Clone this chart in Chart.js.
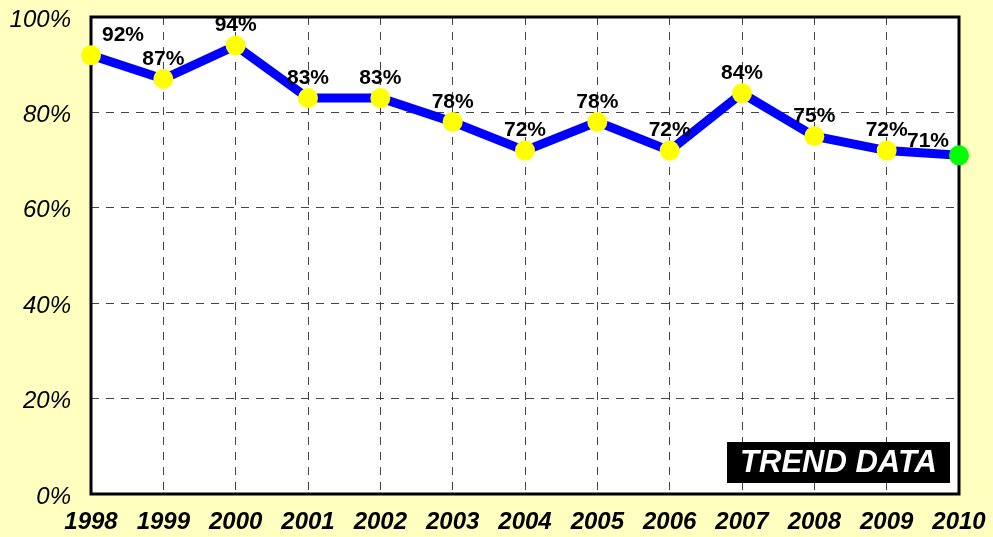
<!DOCTYPE html>
<html>
<head>
<meta charset="utf-8">
<script src="https://cdn.jsdelivr.net/npm/chart.js@4"></script>
<style>
  html, body { margin: 0; padding: 0; background: #ffffc0; }
  #wrap { width: 993px; height: 537px; }
</style>
</head>
<body>
<div id="wrap"><canvas id="trendChart" width="993" height="537"></canvas></div>
<script>
const years = ['1998', '1999', '2000', '2001', '2002', '2003', '2004', '2005', '2006', '2007', '2008', '2009', '2010'];
const percentValues = [92, 87, 94, 83, 83, 78, 72, 78, 72, 84, 75, 72, 71];
const yTicks = [0, 20, 40, 60, 80, 100];
const badgeText = 'TREND DATA';

const FONT = '"Liberation Sans", Arial, sans-serif';

// white plot area, frame, value labels and the badge
const plotDecor = {
    id: 'plotDecor',
    beforeDraw(chart) {
        const { ctx, chartArea: a } = chart;
        ctx.save();
        ctx.fillStyle = '#ffffff';
        ctx.fillRect(a.left, a.top, a.right - a.left, a.bottom - a.top);
        ctx.restore();
    },
    afterDatasetsDraw(chart) {
        const { ctx, chartArea: a } = chart;
        ctx.save();
        ctx.strokeStyle = '#000000';
        ctx.lineWidth = 3;
        ctx.strokeRect(a.left, a.top, a.right - a.left, a.bottom - a.top);
        ctx.restore();

        // redraw points on top of the frame
        const meta = chart.getDatasetMeta(0);
        meta.data.forEach((pt, i) => {
            ctx.save();
            ctx.beginPath();
            ctx.arc(pt.x, pt.y, 10, 0, Math.PI * 2);
            ctx.fillStyle = i === meta.data.length - 1 ? '#00ff00' : '#ffff00';
            ctx.fill();
            ctx.restore();
        });

        ctx.save();
        ctx.font = 'bold 21px ' + FONT;
        ctx.fillStyle = '#000000';
        ctx.textAlign = 'center';
        ctx.textBaseline = 'middle';
        meta.data.forEach((pt, i) => {
            let dx = 0, dy = -20;
            if (i === 0) dx = 32;
            if (i === meta.data.length - 1) { dx = -31; dy = -14; }
            ctx.fillText(percentValues[i] + '%', pt.x + dx, pt.y + dy);
        });
        ctx.restore();

        // badge
        ctx.save();
        const bx = a.right - 232, by = a.bottom - 52, bw = 223, bh = 41;
        ctx.fillStyle = '#000000';
        ctx.fillRect(bx, by, bw, bh);
        ctx.font = 'italic bold 31px ' + FONT;
        ctx.fillStyle = '#ffffff';
        ctx.textAlign = 'center';
        ctx.textBaseline = 'middle';
        ctx.fillText(badgeText, bx + bw / 2, by + bh / 2 + 1);
        ctx.restore();
    }
};

new Chart(document.getElementById('trendChart'), {
    type: 'line',
    data: {
        labels: years,
        datasets: [{
            data: percentValues,
            borderColor: '#0000ff',
            borderWidth: 9,
            tension: 0,
            pointRadius: 0,
            pointHoverRadius: 0,
            clip: false
        }]
    },
    options: {
        responsive: false,
        animation: false,
        events: [],
        layout: { padding: { top: 17, right: 34, left: 0, bottom: 0 } },
        plugins: {
            legend: { display: false },
            tooltip: { enabled: false }
        },
        scales: {
            x: {
                offset: false,
                afterFit: (s) => {
                    s.height = 43;
                    s.paddingLeft = 0;
                    s.paddingRight = 0;
                },
                grid: {
                    color: '#444444',
                    lineWidth: 1,
                    drawTicks: false
                },
                border: { display: false, dash: [8, 7] },
                ticks: {
                    padding: 14,
                    color: '#000000',
                    maxRotation: 0,
                    autoSkip: false,
                    font: { family: FONT, size: 24, style: 'italic', weight: 'bold' }
                }
            },
            y: {
                min: 0,
                max: 100,
                afterFit: (s) => {
                    s.width = 91;
                    s.paddingTop = 0;
                    s.paddingBottom = 0;
                },
                afterBuildTicks: (s) => { s.ticks = yTicks.map(v => ({ value: v })); },
                grid: {
                    color: '#444444',
                    lineWidth: 1,
                    drawTicks: false
                },
                border: { display: false, dash: [8, 7] },
                ticks: {
                    padding: 20,
                    labelOffset: 3,
                    color: '#000000',
                    callback: (v) => v + '%',
                    font: { family: FONT, size: 24, style: 'italic' }
                }
            }
        }
    },
    plugins: [plotDecor]
});
</script>
</body>
</html>
